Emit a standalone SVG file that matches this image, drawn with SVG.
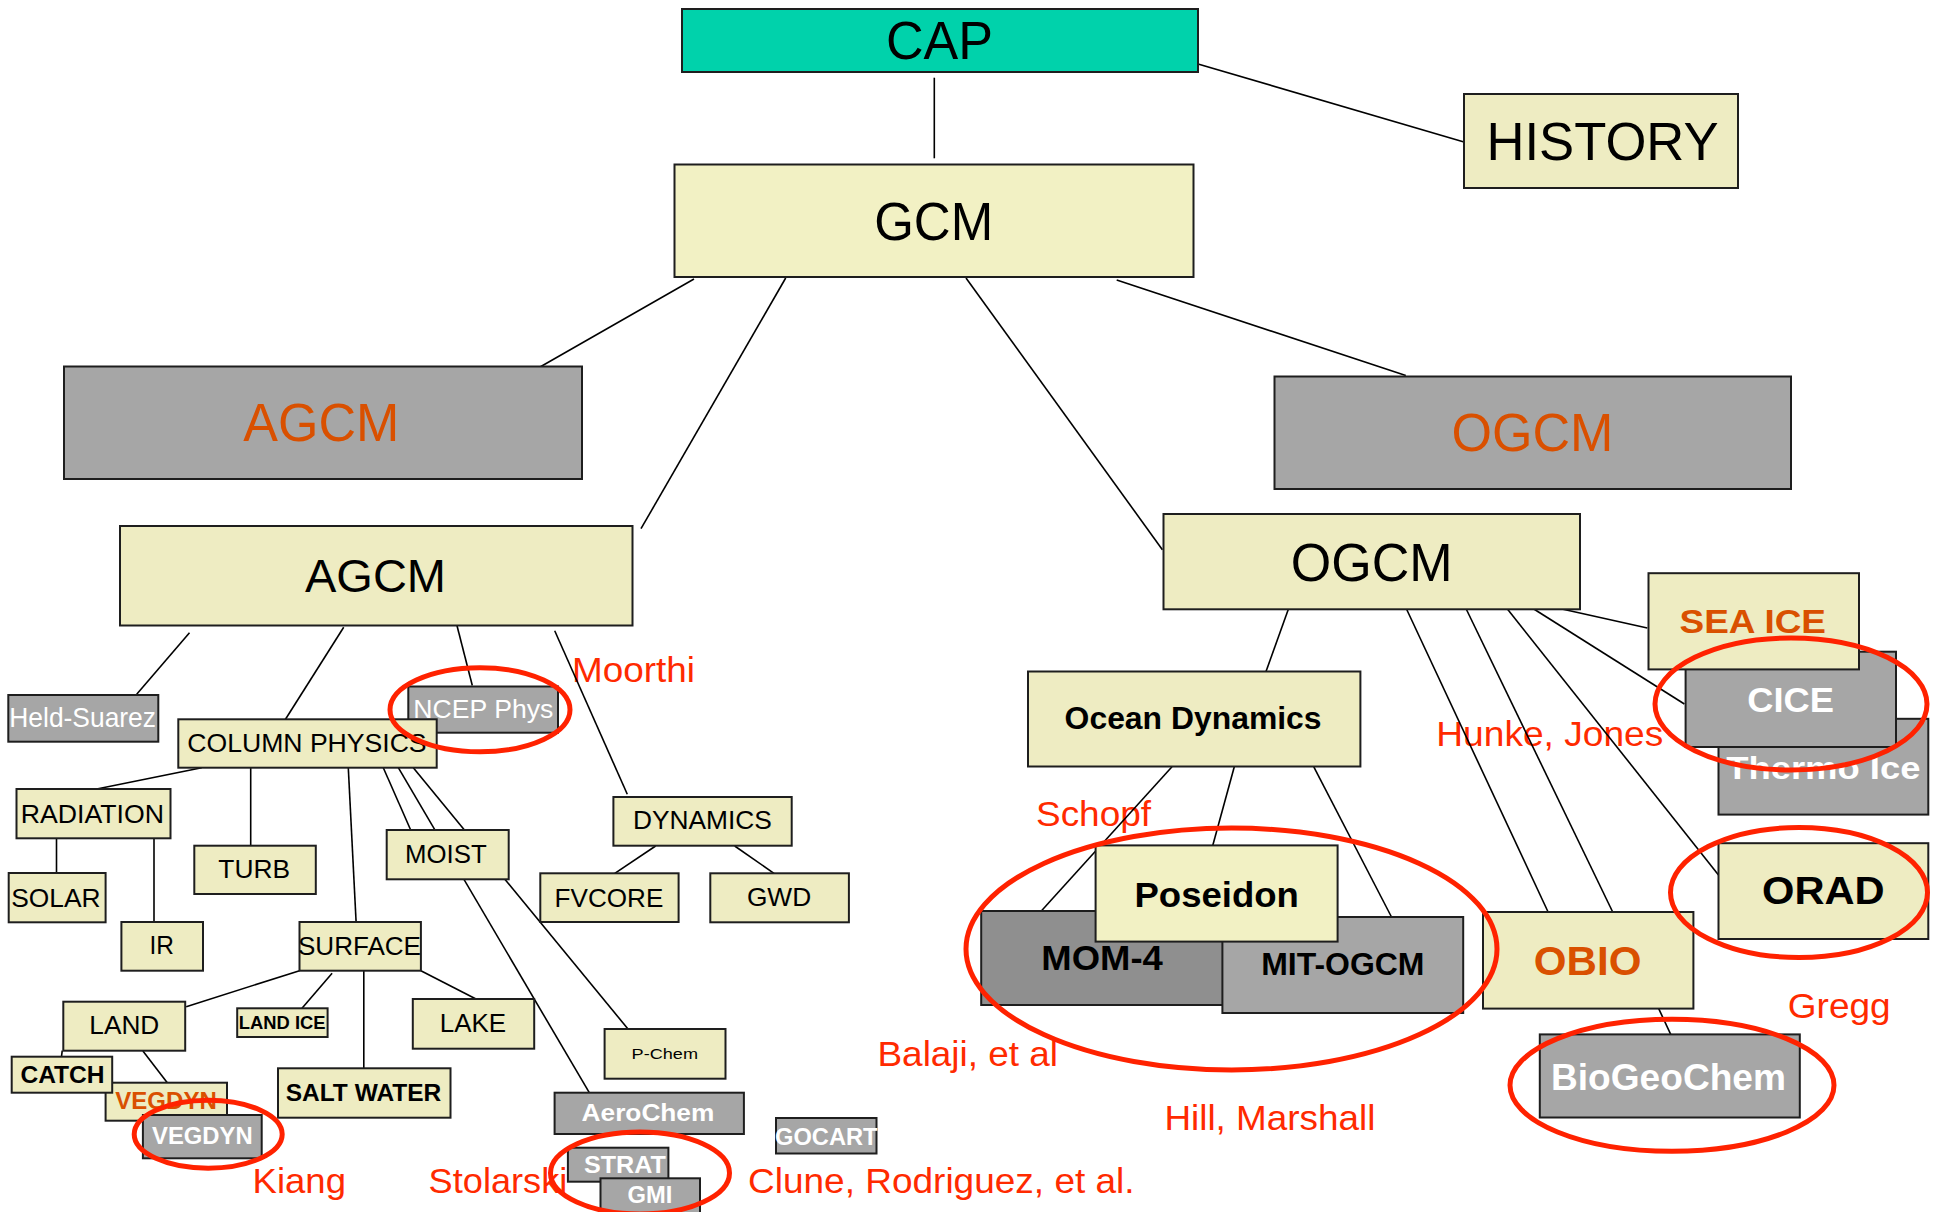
<svg xmlns="http://www.w3.org/2000/svg" width="1937" height="1212" viewBox="0 0 1937 1212">
  <style>
    text { font-family: "Liberation Sans", Arial, sans-serif; fill: #000; }
    .box { stroke: #1e1e1e; stroke-width: 2; }
    .yel { fill: #eeecc2; }
    .yel2 { fill: #f2f1c4; }
    .gry { fill: #a6a6a6; }
    .dgry { fill: #8f8f8f; }
    .cap { fill: #00d2ab; }
    .wt { fill: #ffffff; }
    .or { fill: #d95000; }
    .b { font-weight: bold; }
    .mid { text-anchor: middle; }
    .note { fill: #ff2a00; font-size: 35px; }
    .conn line { stroke: #000; stroke-width: 1.6; }
    .ring { fill: none; stroke: #ff2200; stroke-width: 5; }
  </style>

  <!-- name annotations -->
  <g id="notes">
    <text class="note" x="572" y="681.7" textLength="123" lengthAdjust="spacingAndGlyphs">Moorthi</text>
    <text class="note" x="1436.3" y="746" textLength="227" lengthAdjust="spacingAndGlyphs">Hunke, Jones</text>
    <text class="note" x="1036" y="826.3" textLength="115" lengthAdjust="spacingAndGlyphs">Schopf</text>
    <text class="note" x="877.5" y="1065.8" textLength="180.5" lengthAdjust="spacingAndGlyphs">Balaji, et al</text>
    <text class="note" x="1164.4" y="1130.2" textLength="211" lengthAdjust="spacingAndGlyphs">Hill, Marshall</text>
    <text class="note" x="1787.8" y="1018" textLength="102.8" lengthAdjust="spacingAndGlyphs">Gregg</text>
    <text class="note" x="252.6" y="1193.3" textLength="93.4" lengthAdjust="spacingAndGlyphs">Kiang</text>
    <text class="note" x="428.6" y="1193.3" textLength="138.7" lengthAdjust="spacingAndGlyphs">Stolarski</text>
    <text class="note" x="748" y="1193" textLength="386.6" lengthAdjust="spacingAndGlyphs">Clune, Rodriguez, et al.</text>
  </g>

  <!-- connectors -->
  <g id="connectors" class="conn">
    <line x1="934.3" y1="77.7" x2="934.3" y2="158.3"/>
    <line x1="1198" y1="64" x2="1464" y2="142"/>
    <line x1="694" y1="279" x2="540" y2="367"/>
    <line x1="785.7" y1="278" x2="641" y2="528.7"/>
    <line x1="966" y1="278" x2="1162.4" y2="549.7"/>
    <line x1="1116.7" y1="280" x2="1405.8" y2="375.5"/>
    <line x1="189.5" y1="632.7" x2="136.7" y2="694.3"/>
    <line x1="343.7" y1="627.3" x2="285" y2="720"/>
    <line x1="456" y1="621.7" x2="472.3" y2="685.5"/>
    <line x1="554.7" y1="630.7" x2="627.3" y2="794.3"/>
    <line x1="201.7" y1="767.7" x2="96.7" y2="789"/>
    <line x1="250.7" y1="767.7" x2="250.7" y2="845.7"/>
    <line x1="348.3" y1="768" x2="356.1" y2="922"/>
    <line x1="383.3" y1="767.7" x2="410.7" y2="830"/>
    <line x1="398.3" y1="767.7" x2="589.3" y2="1092.7"/>
    <line x1="413.3" y1="767.7" x2="628" y2="1029"/>
    <line x1="56.5" y1="838" x2="56.5" y2="873"/>
    <line x1="154" y1="838" x2="154" y2="922"/>
    <line x1="655.6" y1="846" x2="614.8" y2="873.3"/>
    <line x1="734.7" y1="846" x2="774" y2="873.3"/>
    <line x1="299.5" y1="970.7" x2="186.2" y2="1006.7"/>
    <line x1="332.1" y1="973.3" x2="302" y2="1008.3"/>
    <line x1="363.8" y1="970.7" x2="363.8" y2="1068.3"/>
    <line x1="420.9" y1="970.7" x2="476" y2="999"/>
    <line x1="62.2" y1="1050.7" x2="61.5" y2="1056.7"/>
    <line x1="142.9" y1="1051" x2="167.3" y2="1082.7"/>
    <line x1="1288.7" y1="608.2" x2="1266" y2="671.5"/>
    <line x1="1406.5" y1="609" x2="1548.1" y2="912"/>
    <line x1="1466.2" y1="609" x2="1612.7" y2="912"/>
    <line x1="1505" y1="606" x2="1718.5" y2="874.9"/>
    <line x1="1533.8" y1="609" x2="1684.4" y2="704"/>
    <line x1="1561.9" y1="609" x2="1647.3" y2="628"/>
    <line x1="1172" y1="766.8" x2="1041.3" y2="911"/>
    <line x1="1234.3" y1="766.8" x2="1212.2" y2="847.5"/>
    <line x1="1313.8" y1="766.8" x2="1391.5" y2="917"/>
    <line x1="1658.7" y1="1008.6" x2="1670.7" y2="1034.4"/>
  </g>

  <!-- top level -->
  <g id="cap"><rect class="box cap" x="682" y="9" width="516" height="63"/>
    <text class="mid" x="939.5" y="59.3" font-size="54" textLength="107" lengthAdjust="spacingAndGlyphs">CAP</text></g>
  <g id="history"><rect class="box yel" x="1464" y="94" width="274" height="94"/>
    <text class="mid" x="1602.5" y="160" font-size="53" textLength="232" lengthAdjust="spacingAndGlyphs">HISTORY</text></g>
  <g id="gcm"><rect class="box yel2" x="674.5" y="164.5" width="519" height="112.5"/>
    <text class="mid" x="933.7" y="240" font-size="54" textLength="119" lengthAdjust="spacingAndGlyphs">GCM</text></g>
  <g id="agcm-grey"><rect class="box gry" x="64" y="366.5" width="518" height="112.5"/>
    <text class="mid or" x="321.3" y="441" font-size="54" textLength="156" lengthAdjust="spacingAndGlyphs">AGCM</text></g>
  <g id="ogcm-grey"><rect class="box gry" x="1274.5" y="376.5" width="516.5" height="112.5"/>
    <text class="mid or" x="1532.5" y="451" font-size="54" textLength="162" lengthAdjust="spacingAndGlyphs">OGCM</text></g>

  <!-- atmosphere -->
  <g id="agcm"><rect class="box yel" x="120" y="526" width="512.5" height="99.5"/>
    <text class="mid" x="375.5" y="591.7" font-size="47" textLength="141" lengthAdjust="spacingAndGlyphs">AGCM</text></g>
  <g id="held-suarez"><rect class="box gry" x="8.3" y="695" width="150" height="46.7"/>
    <text class="wt" x="9.3" y="727.3" font-size="28" textLength="146.7" lengthAdjust="spacingAndGlyphs">Held-Suarez</text></g>
  <g id="ncep-phys"><rect class="box gry" x="408.3" y="686.5" width="149.7" height="46.2"/>
    <text class="wt" x="413.3" y="718.3" font-size="26" textLength="140" lengthAdjust="spacingAndGlyphs">NCEP Phys</text></g>
  <g id="column-physics"><rect class="box yel" x="178.3" y="719.3" width="258.4" height="48.4"/>
    <text x="187.3" y="751.7" font-size="25.6" textLength="239.3" lengthAdjust="spacingAndGlyphs">COLUMN PHYSICS</text></g>
  <g id="radiation"><rect class="box yel" x="16.5" y="789" width="154" height="49.3"/>
    <text x="20.7" y="822.7" font-size="25.6" textLength="143.3" lengthAdjust="spacingAndGlyphs">RADIATION</text></g>
  <g id="solar"><rect class="box yel" x="8.7" y="873" width="96.9" height="49.3"/>
    <text x="11.2" y="906.7" font-size="25.6" textLength="89.3" lengthAdjust="spacingAndGlyphs">SOLAR</text></g>
  <g id="ir"><rect class="box yel" x="121.4" y="922" width="81.6" height="48.7"/>
    <text x="149.5" y="954" font-size="25.6" textLength="24.5" lengthAdjust="spacingAndGlyphs">IR</text></g>
  <g id="turb"><rect class="box yel" x="194.3" y="845.7" width="121.5" height="48.3"/>
    <text x="218.3" y="878.3" font-size="25.6" textLength="71.7" lengthAdjust="spacingAndGlyphs">TURB</text></g>
  <g id="moist"><rect class="box yel" x="386.7" y="830" width="122" height="49.3"/>
    <text x="405" y="863.3" font-size="25.6" textLength="81.7" lengthAdjust="spacingAndGlyphs">MOIST</text></g>
  <g id="dynamics"><rect class="box yel" x="613.4" y="797" width="178.3" height="48.7"/>
    <text x="632.9" y="829" font-size="25.6" textLength="138.9" lengthAdjust="spacingAndGlyphs">DYNAMICS</text></g>
  <g id="fvcore"><rect class="box yel" x="540.3" y="873.3" width="138.3" height="48.7"/>
    <text x="554.6" y="906.7" font-size="25.6" textLength="108.7" lengthAdjust="spacingAndGlyphs">FVCORE</text></g>
  <g id="gwd"><rect class="box yel" x="710.3" y="873.3" width="138.6" height="49"/>
    <text x="746.9" y="906.3" font-size="25.6" textLength="64.3" lengthAdjust="spacingAndGlyphs">GWD</text></g>
  <g id="surface"><rect class="box yel" x="299.5" y="922" width="121.4" height="48.7"/>
    <text x="298" y="955" font-size="25.6" textLength="123" lengthAdjust="spacingAndGlyphs">SURFACE</text></g>
  <g id="land"><rect class="box yel" x="63.3" y="1001.7" width="121.9" height="49"/>
    <text x="89.3" y="1034.3" font-size="25.6" textLength="70" lengthAdjust="spacingAndGlyphs">LAND</text></g>
  <g id="land-ice"><rect class="box yel" x="237.2" y="1008.3" width="90.4" height="28.7"/>
    <text class="b" x="238.8" y="1028.7" font-size="17.7" textLength="86.7" lengthAdjust="spacingAndGlyphs">LAND ICE</text></g>
  <g id="lake"><rect class="box yel" x="412.8" y="999" width="121.4" height="49.7"/>
    <text x="439.8" y="1032.3" font-size="25.6" textLength="66.3" lengthAdjust="spacingAndGlyphs">LAKE</text></g>
  <g id="vegdyn"><rect class="box yel" x="105.6" y="1082.7" width="121.4" height="38"/>
    <text class="or b" x="115.3" y="1109.3" font-size="24.5" textLength="101.5" lengthAdjust="spacingAndGlyphs">VEGDYN</text></g>
  <g id="catch"><rect class="box yel" x="11.7" y="1056.7" width="100.5" height="36"/>
    <text class="b" x="20.4" y="1082.7" font-size="23" textLength="84.2" lengthAdjust="spacingAndGlyphs">CATCH</text></g>
  <g id="vegdyn-grey"><rect class="box gry" x="142.9" y="1115" width="118.8" height="43.3"/>
    <text class="wt b" x="152" y="1144" font-size="23" textLength="100.6" lengthAdjust="spacingAndGlyphs">VEGDYN</text></g>
  <g id="salt-water"><rect class="box yel" x="278" y="1068.3" width="172.5" height="49.4"/>
    <text class="b" x="285.7" y="1100.7" font-size="23" textLength="155.6" lengthAdjust="spacingAndGlyphs">SALT WATER</text></g>
  <g id="p-chem"><rect class="box yel" x="604.6" y="1029" width="120.9" height="49.7"/>
    <text x="631.6" y="1059.3" font-size="15" textLength="66.4" lengthAdjust="spacingAndGlyphs">P-Chem</text></g>
  <g id="aerochem"><rect class="box gry" x="554.6" y="1092.7" width="189.3" height="41.3"/>
    <text class="wt b" x="581.6" y="1121" font-size="24" textLength="132.7" lengthAdjust="spacingAndGlyphs">AeroChem</text></g>
  <g id="strat"><rect class="box gry" x="567.9" y="1147.7" width="100.5" height="34"/>
    <text class="wt b" x="584" y="1173.3" font-size="23" textLength="81.8" lengthAdjust="spacingAndGlyphs">STRAT</text></g>
  <g id="gmi"><rect class="box gry" x="600.5" y="1178.3" width="99.5" height="40"/>
    <text class="wt b" x="627.6" y="1203.3" font-size="23" textLength="44.8" lengthAdjust="spacingAndGlyphs">GMI</text></g>
  <g id="gocart"><rect class="box gry" x="776" y="1118" width="100.5" height="35.5"/>
    <text class="wt b" x="775" y="1144.6" font-size="24" textLength="102.5" lengthAdjust="spacingAndGlyphs">GOCART</text></g>

  <!-- ocean -->
  <g id="ogcm"><rect class="box yel" x="1163.5" y="514" width="416.5" height="95.3"/>
    <text class="mid" x="1371.7" y="580.7" font-size="54" textLength="162" lengthAdjust="spacingAndGlyphs">OGCM</text></g>
  <g id="ocean-dynamics"><rect class="box yel" x="1028" y="671.5" width="332.4" height="95"/>
    <text class="b" x="1064.6" y="729.3" font-size="31" textLength="257" lengthAdjust="spacingAndGlyphs">Ocean Dynamics</text></g>
  <g id="mom4"><rect class="box dgry" x="981.2" y="911" width="250" height="94"/>
    <text class="b" x="1041.3" y="969.7" font-size="34.5" textLength="121.5" lengthAdjust="spacingAndGlyphs">MOM-4</text></g>
  <g id="mit-ogcm"><rect class="box gry" x="1222.4" y="917" width="240.8" height="96"/>
    <text class="b" x="1261.2" y="975.3" font-size="31" textLength="163.2" lengthAdjust="spacingAndGlyphs">MIT-OGCM</text></g>
  <g id="poseidon"><rect class="box yel2" x="1095.6" y="845.4" width="242" height="96.2"/>
    <text class="b" x="1134.5" y="906.5" font-size="35" textLength="164.4" lengthAdjust="spacingAndGlyphs">Poseidon</text></g>
  <g id="thermo-ice"><rect class="box gry" x="1718.5" y="718.8" width="209.8" height="95.8"/>
    <text class="wt b" x="1726.2" y="779" font-size="31" textLength="194.3" lengthAdjust="spacingAndGlyphs">Thermo Ice</text></g>
  <g id="cice"><rect class="box gry" x="1685.6" y="651.7" width="210.4" height="95.3"/>
    <text class="wt b" x="1747.2" y="712.4" font-size="35" textLength="86.7" lengthAdjust="spacingAndGlyphs">CICE</text></g>
  <g id="sea-ice"><rect class="box yel" x="1648.5" y="573.2" width="210.5" height="96.2"/>
    <text class="or b" x="1679.6" y="633" font-size="33.5" textLength="146.4" lengthAdjust="spacingAndGlyphs">SEA ICE</text></g>
  <g id="orad"><rect class="box yel" x="1718.5" y="843.2" width="209.8" height="95.8"/>
    <text class="b" x="1762" y="904.4" font-size="38" textLength="122.6" lengthAdjust="spacingAndGlyphs">ORAD</text></g>
  <g id="obio"><rect class="box yel" x="1483" y="912" width="210.4" height="96.6"/>
    <text class="or b" x="1533.8" y="975" font-size="41" textLength="107.6" lengthAdjust="spacingAndGlyphs">OBIO</text></g>
  <g id="biogeochem"><rect class="box gry" x="1539.8" y="1034.4" width="260" height="83.1"/>
    <text class="wt b" x="1551" y="1090" font-size="36" textLength="235" lengthAdjust="spacingAndGlyphs">BioGeoChem</text></g>

  <!-- highlight rings -->
  <g id="rings">
    <ellipse class="ring" cx="480" cy="709.7" rx="90" ry="42"/>
    <ellipse class="ring" cx="208.2" cy="1134.2" rx="74" ry="34"/>
    <ellipse class="ring" cx="640" cy="1173" rx="89.5" ry="41"/>
    <ellipse class="ring" cx="1231.5" cy="949" rx="265.5" ry="121"/>
    <ellipse class="ring" cx="1791" cy="704" rx="136" ry="66"/>
    <ellipse class="ring" cx="1799" cy="892.5" rx="128.5" ry="65"/>
    <ellipse class="ring" cx="1672" cy="1085.3" rx="162" ry="66"/>
  </g>
</svg>
